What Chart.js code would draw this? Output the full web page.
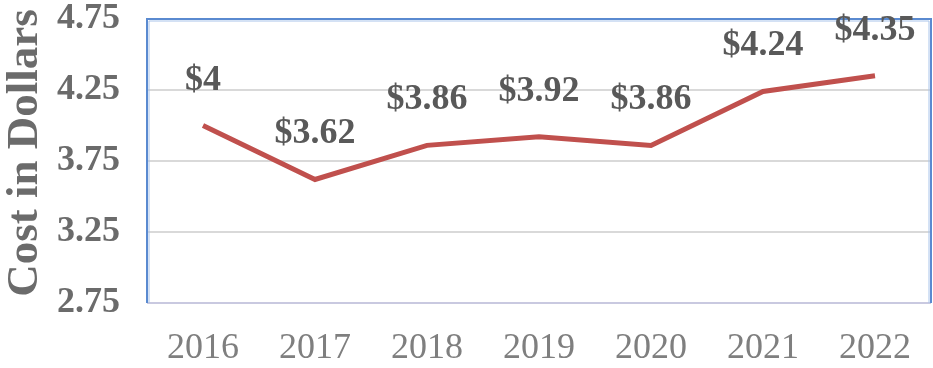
<!DOCTYPE html>
<html>
<head>
<meta charset="utf-8">
<script src="https://cdn.jsdelivr.net/npm/chart.js@4"></script>
<style>
html,body{margin:0;padding:0;background:#fff;}
#wrap{width:933px;height:368px;position:relative;}
</style>
</head>
<body>
<div id="wrap"><canvas id="c" width="933" height="368"></canvas></div>
<script>
const years = ["2016","2017","2018","2019","2020","2021","2022"];
const costs = [4, 3.62, 3.86, 3.92, 3.86, 4.24, 4.35];
const costLabels = ["$4","$3.62","$3.86","$3.92","$3.86","$4.24","$4.35"];
const yTitle = "Cost in Dollars";
const yMin = 2.75, yMax = 4.75, yStep = 0.5;

const serif = "'Liberation Serif','Times New Roman',serif";

const frame = {
  id: 'frame',
  afterDatasetsDraw(chart){
    const {ctx, chartArea:a} = chart;
    ctx.save();
    ctx.strokeStyle = '#c9c9e0';
    ctx.lineWidth = 2;
    ctx.beginPath();
    ctx.moveTo(a.left, a.bottom); ctx.lineTo(a.right, a.bottom);
    ctx.stroke();
    ctx.strokeStyle = '#5a8ad0';
    ctx.lineWidth = 2;
    ctx.beginPath();
    ctx.moveTo(a.left, a.bottom); ctx.lineTo(a.left, a.top);
    ctx.lineTo(a.right, a.top); ctx.lineTo(a.right, a.bottom);
    ctx.stroke();
    ctx.strokeStyle = '#a9c4ea';
    ctx.lineWidth = 1;
    ctx.beginPath();
    ctx.moveTo(a.left+2, a.bottom); ctx.lineTo(a.left+2, a.top+2);
    ctx.lineTo(a.right-2, a.top+2); ctx.lineTo(a.right-2, a.bottom);
    ctx.stroke();
    // data labels
    const meta = chart.getDatasetMeta(0);
    ctx.fillStyle = '#595959';
    ctx.font = 'bold 36px ' + serif;
    ctx.textAlign = 'center';
    ctx.textBaseline = 'alphabetic';
    meta.data.forEach((pt, i) => {
      ctx.fillText(costLabels[i], pt.x, pt.y - 36);
    });
    // y axis title
    ctx.translate(37, 153);
    ctx.rotate(-Math.PI/2);
    ctx.fillStyle = '#6b6b6b';
    ctx.font = 'bold 45px ' + serif;
    ctx.textAlign = 'center';
    ctx.textBaseline = 'alphabetic';
    ctx.fillText(yTitle, 0, 0);
    ctx.restore();
  }
};

new Chart(document.getElementById('c'), {
  type: 'line',
  data: {
    labels: years,
    datasets: [{
      data: costs,
      borderColor: '#C0504D',
      borderWidth: 5,
      pointRadius: 0,
      tension: 0,
      fill: false
    }]
  },
  options: {
    responsive: false,
    animation: false,
    layout: { padding: { top: 19, right: 2, left: 0, bottom: 0 } },
    plugins: { legend: { display: false }, tooltip: { enabled: false } },
    scales: {
      x: {
        type: 'category',
        offset: true,
        grid: { display: false, drawTicks: false },
        border: { display: false },
        ticks: {
          color: '#7f7f7f',
          font: { family: serif, size: 36 },
          padding: 24,
          maxRotation: 0
        },
        afterFit(s){ s.height = 65; s.paddingLeft = 0; s.paddingRight = 0; }
      },
      y: {
        min: yMin, max: yMax,
        grid: {
          color: (c) => (c.tick && (c.tick.value === yMin || c.tick.value === yMax)) ? 'rgba(0,0,0,0)' : '#d9d9d9',
          lineWidth: 2,
          drawTicks: false
        },
        border: { display: false },
        ticks: {
          stepSize: yStep,
          color: '#6b6b6b',
          font: { family: serif, size: 36, weight: 'bold' },
          padding: 27,
          callback: (v) => Number(v).toFixed(2)
        },
        title: { display: false },
        afterFit(s){ s.width = 147; s.paddingTop = 0; s.paddingBottom = 0; }
      }
    }
  },
  plugins: [frame]
});
</script>
</body>
</html>
